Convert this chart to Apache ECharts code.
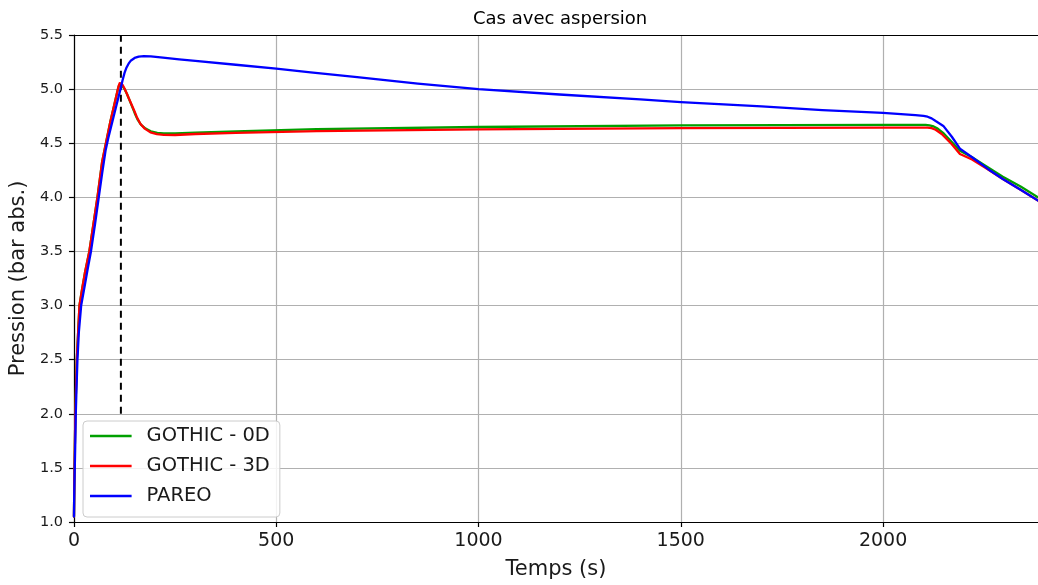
<!DOCTYPE html>
<html>
<head>
<meta charset="utf-8">
<script src="https://cdn.jsdelivr.net/npm/echarts@6/dist/echarts.min.js"></script>
<style>
  html, body { margin: 0; padding: 0; background: #fff; }
  #chart { width: 1038px; height: 585px; }
</style>
</head>
<body>
<div id="chart"></div>
<script>
// ---- Data ----
var seriesNames = ['GOTHIC - 0D', 'GOTHIC - 3D', 'PAREO'];
var seriesColors = ['#00a000', '#ff0000', '#0000ff'];

var tGreen = [0, 1, 2, 3.5, 7, 13.6, 20, 27, 38, 48, 58, 69.7, 79, 90, 100, 108.7, 111, 113, 116, 120, 125, 131, 137, 143, 150, 157, 166, 177, 190, 206, 222, 250, 300, 400, 600, 1000, 1500, 2000, 2105, 2115, 2125, 2135, 2150, 2170, 2190, 2220, 2250, 2296, 2340, 2383];
var pGreen = [1.05, 1.4, 1.65, 2.0, 2.5, 3.0, 3.15, 3.3, 3.5, 3.75, 4.0, 4.33, 4.5, 4.7, 4.86, 5.0, 5.03, 5.048, 5.05, 5.035, 5.0, 4.955, 4.9, 4.845, 4.78, 4.72, 4.67, 4.635, 4.61, 4.595, 4.59, 4.59, 4.597, 4.61, 4.63, 4.65, 4.665, 4.67, 4.67, 4.665, 4.655, 4.635, 4.59, 4.51, 4.43, 4.37, 4.30, 4.19, 4.10, 4.0];

var tRed = [0, 1, 2, 3.5, 7, 13.6, 20, 27, 38, 48, 58, 69.7, 79, 90, 100, 108.7, 111, 113, 116, 120, 125, 130, 135, 141, 148, 155, 164, 175, 189, 205, 222, 250, 300, 400, 600, 1000, 1500, 2000, 2110, 2120, 2130, 2145, 2170, 2190, 2220, 2250, 2296, 2340, 2383];
var pRed = [1.05, 1.4, 1.65, 2.0, 2.5, 3.0, 3.15, 3.3, 3.5, 3.75, 4.0, 4.33, 4.5, 4.7, 4.86, 5.0, 5.035, 5.055, 5.06, 5.04, 5.005, 4.965, 4.92, 4.87, 4.81, 4.745, 4.68, 4.635, 4.6, 4.585, 4.578, 4.576, 4.585, 4.595, 4.612, 4.628, 4.64, 4.645, 4.645, 4.64, 4.625, 4.585, 4.49, 4.40, 4.35, 4.28, 4.17, 4.07, 3.97];

var tBlue = [0, 0.5, 1, 2, 3, 4.5, 6, 8.6, 12, 17.8, 26, 34, 42, 52, 61.3, 70, 78, 85, 95, 105, 115, 120, 125, 130, 135, 141, 150, 160, 173, 190, 220, 260, 300, 400, 500, 585, 700, 850, 1000, 1200, 1400, 1500, 1700, 1850, 2000, 2080, 2100, 2110, 2120, 2130, 2149, 2170, 2190, 2220, 2260, 2296, 2340, 2383];
var pBlue = [1.05, 1.2, 1.32, 1.5, 1.68, 2.0, 2.2, 2.5, 2.75, 3.0, 3.17, 3.34, 3.5, 3.75, 4.0, 4.23, 4.43, 4.55, 4.7, 4.85, 5.0, 5.08, 5.15, 5.2, 5.235, 5.265, 5.288, 5.30, 5.305, 5.302, 5.29, 5.275, 5.26, 5.225, 5.19, 5.155, 5.11, 5.05, 5.0, 4.95, 4.905, 4.88, 4.84, 4.805, 4.78, 4.76, 4.752, 4.745, 4.73, 4.705, 4.66, 4.56, 4.45, 4.37, 4.26, 4.17, 4.07, 3.97];

var markerTime = 116;          // dashed vertical line
var markerRange = [2.0, 5.5];

var xMin = 0, xMax = 2383, xStep = 500;
var yMin = 1.0, yMax = 5.5, yStep = 0.5;

function zip(t, v) {
  var out = [];
  for (var i = 0; i < t.length; i++) out.push([t[i], v[i]]);
  return out;
}

var chart = echarts.init(document.getElementById('chart'), null, { renderer: 'canvas' });
var FONT = 'DejaVu Sans';

function lineSeries(name, color, t, v) {
  return {
    name: name,
    type: 'line',
    data: zip(t, v),
    showSymbol: false,
    symbol: 'none',
    smooth: false,
    lineStyle: { color: color, width: 2.3, join: 'round', cap: 'round' },
    itemStyle: { color: color },
    z: 3
  };
}

var legendIcon = 'path://M0,0H41.6V2.6H0Z M51.6,0L51.6,2.6';

var option = {
  backgroundColor: '#ffffff',
  animation: false,
  title: {
    text: 'Cas avec aspersion',
    left: 468,
    top: 5,
    textStyle: { fontFamily: FONT, fontSize: 18, fontWeight: 'normal', color: '#000' }
  },
  grid: { left: 73.5, right: 0, top: 35, bottom: 58.5, containLabel: false },
  legend: {
    orient: 'vertical',
    left: 83,
    top: 421,
    padding: [5, 10, 11, 7],
    itemGap: 10,
    itemWidth: 51.6,
    itemHeight: 14,
    icon: legendIcon,
    data: seriesNames,
    backgroundColor: 'rgba(255,255,255,0.85)',
    borderColor: '#cccccc',
    borderWidth: 1,
    borderRadius: 4,
    textStyle: { fontFamily: FONT, fontSize: 19.5, color: '#1a1a1a', lineHeight: 20 }
  },
  xAxis: [{
    type: 'value',
    min: xMin, max: xMax, interval: xStep,
    name: 'Temps (s)',
    nameLocation: 'middle',
    nameGap: 37,
    nameTextStyle: { fontFamily: FONT, fontSize: 21, color: '#1a1a1a' },
    axisLine: { show: true, onZero: false, lineStyle: { color: '#000', width: 1.2 } },
    axisTick: { show: true, inside: false, length: 5, lineStyle: { color: '#000', width: 1.2 } },
    axisLabel: {
      fontFamily: FONT, fontSize: 19, color: '#1a1a1a', margin: 10,
      showMaxLabel: false,
      formatter: function (v) { return (v % xStep === 0) ? String(v) : ''; }
    },
    splitLine: { show: true, showMaxLine: false, lineStyle: { color: '#b0b0b0', width: 1.2 } }
  }, {
    type: 'value',
    position: 'top',
    min: xMin, max: xMax, interval: xStep,
    axisLine: { show: true, onZero: false, lineStyle: { color: '#000', width: 1.2 } },
    axisTick: { show: false },
    axisLabel: { show: false },
    splitLine: { show: false }
  }],
  yAxis: {
    type: 'value',
    min: yMin, max: yMax, interval: yStep,
    name: 'Pression (bar abs.)',
    nameLocation: 'middle',
    nameGap: 44,
    nameTextStyle: { fontFamily: FONT, fontSize: 21, color: '#1a1a1a' },
    axisLine: { show: true, onZero: false, lineStyle: { color: '#000', width: 1.2 } },
    axisTick: { show: true, inside: false, length: 5, lineStyle: { color: '#000', width: 1.2 } },
    axisLabel: {
      fontFamily: FONT, fontSize: 14.5, color: '#1a1a1a', margin: 11,
      formatter: function (v) { return v.toFixed(1); }
    },
    splitLine: { show: true, lineStyle: { color: '#b0b0b0', width: 1.2 } }
  },
  series: [
    lineSeries(seriesNames[0], seriesColors[0], tGreen, pGreen),
    lineSeries(seriesNames[1], seriesColors[1], tRed, pRed),
    lineSeries(seriesNames[2], seriesColors[2], tBlue, pBlue),
    {
      name: 'marker',
      type: 'line',
      data: [[markerTime, markerRange[0]], [markerTime, markerRange[1]]],
      showSymbol: false,
      symbol: 'none',
      lineStyle: { color: '#000', width: 2, type: [7, 5] },
      z: 2,
      silent: true
    }
  ]
};

chart.setOption(option);
</script>
</body>
</html>
